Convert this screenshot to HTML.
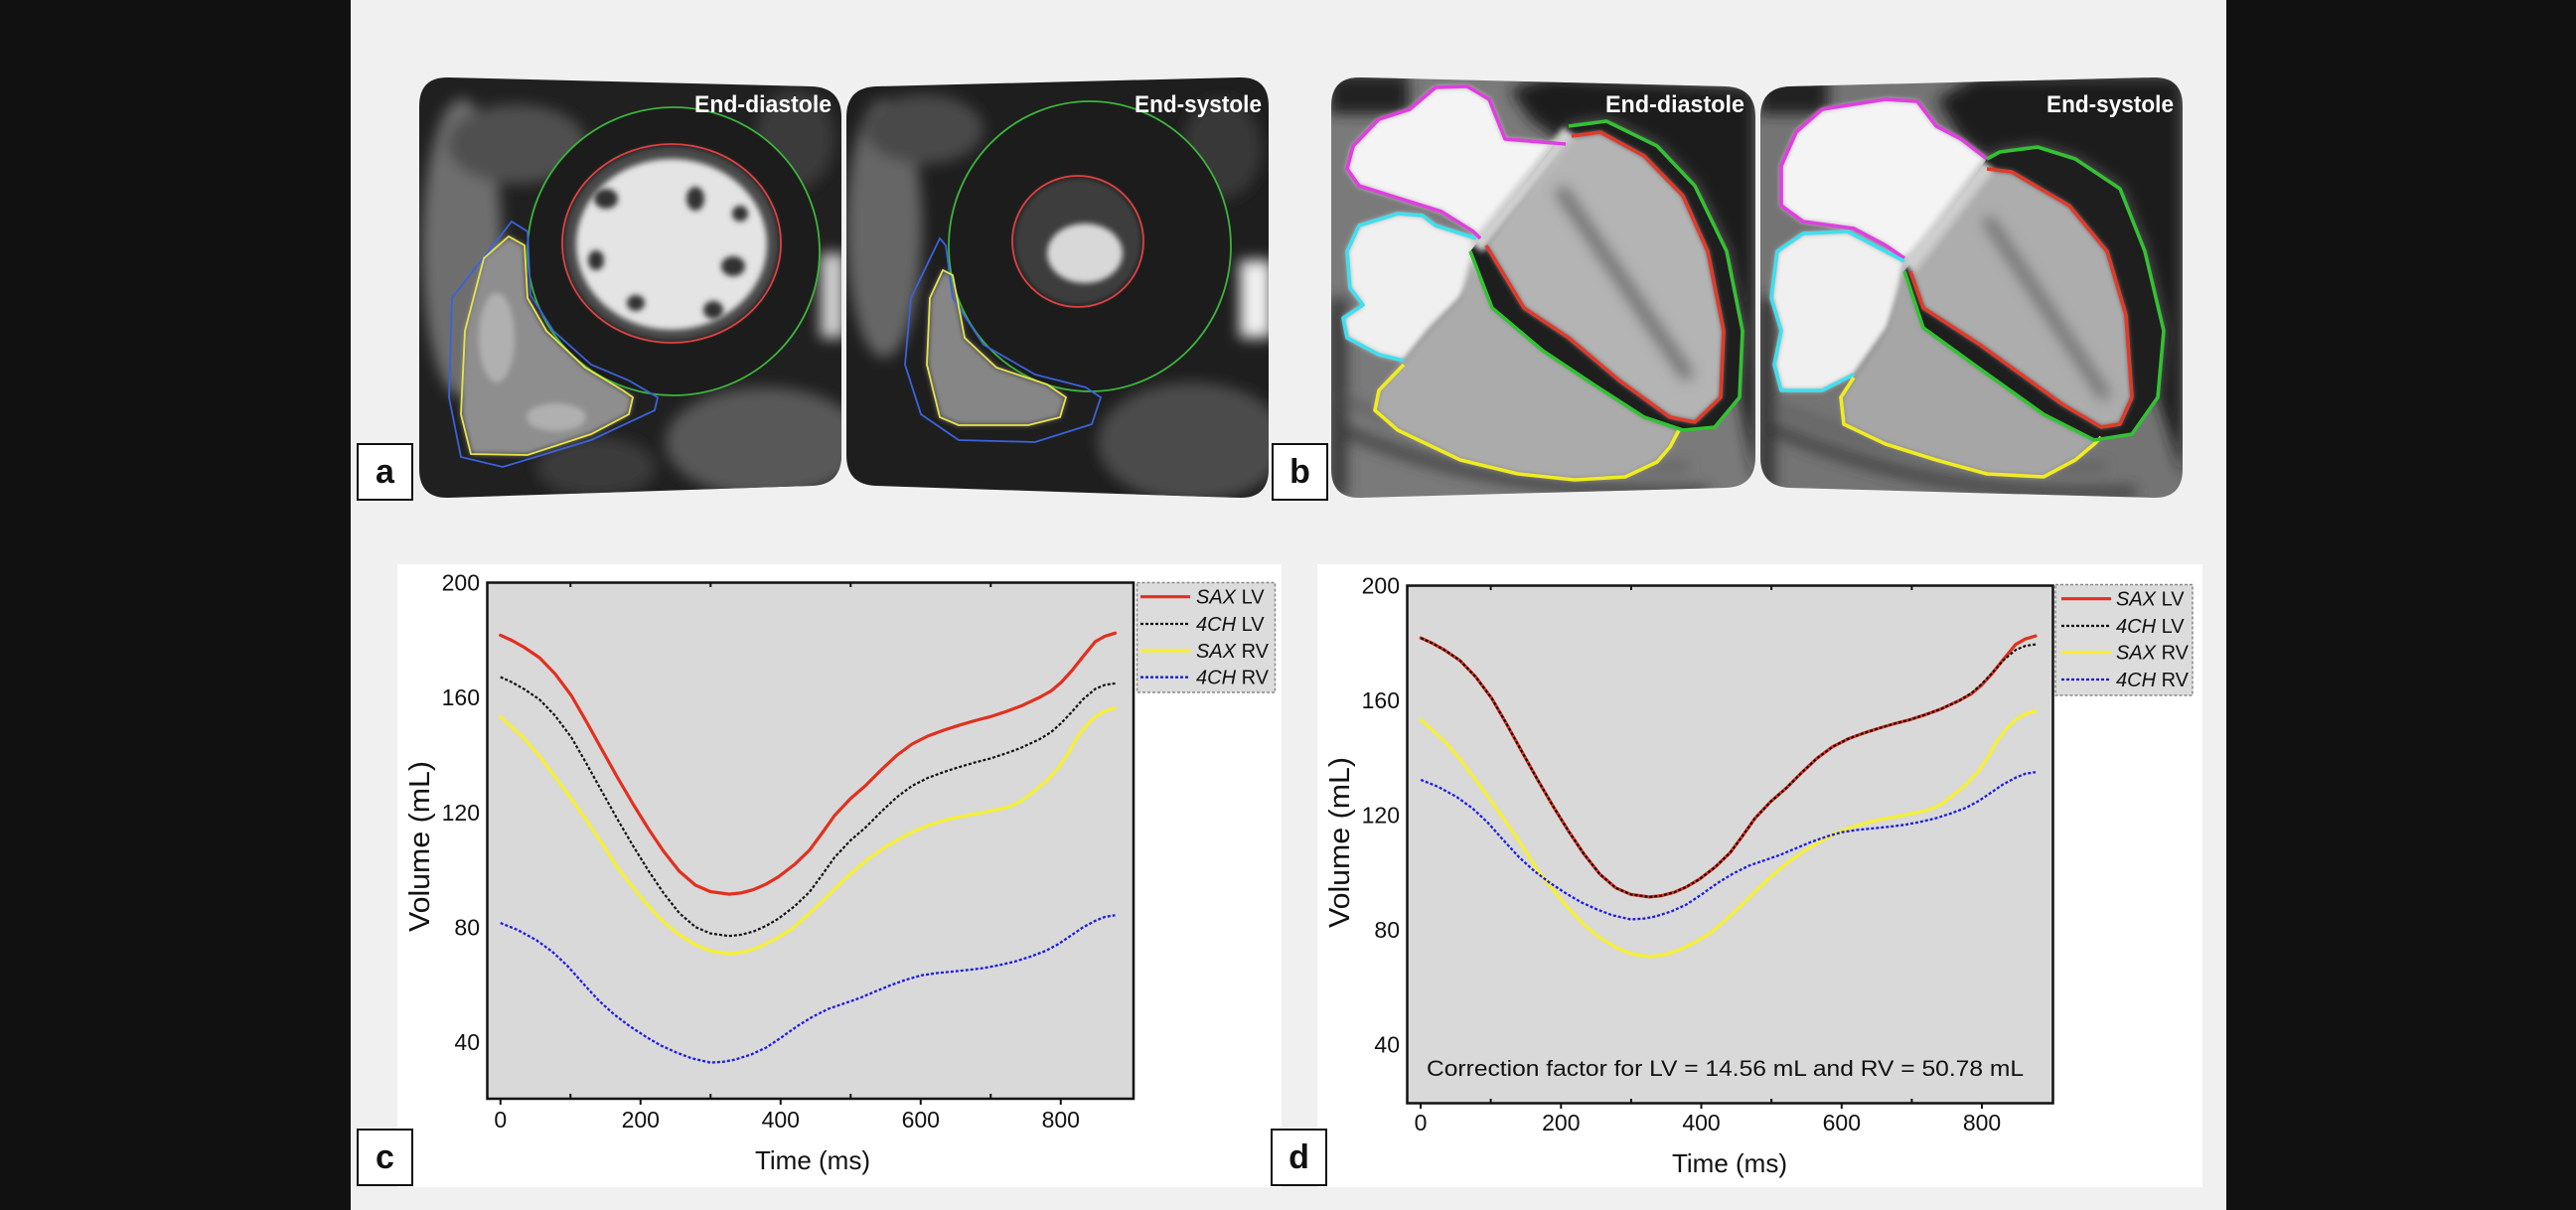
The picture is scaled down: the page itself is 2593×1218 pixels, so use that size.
<!DOCTYPE html>
<html>
<head>
<meta charset="utf-8">
<style>
html,body{margin:0;padding:0;background:#111;}
body{width:2593px;height:1218px;overflow:hidden;}
svg{display:block;}
text{font-family:"Liberation Sans",Arial,sans-serif;}
</style>
</head>
<body>
<svg width="2593" height="1218" viewBox="0 0 2593 1218" xmlns="http://www.w3.org/2000/svg">
<defs>
  <filter id="bl" x="-30%" y="-30%" width="160%" height="160%"><feGaussianBlur stdDeviation="7"/></filter>
  <filter id="bs" x="-30%" y="-30%" width="160%" height="160%"><feGaussianBlur stdDeviation="3"/></filter>
  <clipPath id="ca1"><path d="M452,78 L817,87 Q847,88 847,118 L847,458 Q847,488 817,489 L452,501 Q422,502 422,472 L422,107 Q422,77 452,78 Z"/></clipPath>
  <clipPath id="ca2"><path d="M882,87 L1247,78 Q1277,77 1277,107 L1277,472 Q1277,502 1247,501 L882,489 Q852,488 852,458 L852,118 Q852,88 882,87 Z"/></clipPath>
  <clipPath id="cb1"><path d="M1370,78 L1737,87 Q1767,88 1767,118 L1767,460 Q1767,490 1737,491 L1370,501 Q1340,502 1340,472 L1340,107 Q1340,77 1370,78 Z"/></clipPath>
  <clipPath id="cb2"><path d="M1802,87 L2167,78 Q2197,77 2197,107 L2197,472 Q2197,502 2167,501 L1802,491 Q1772,490 1772,460 L1772,118 Q1772,88 1802,87 Z"/></clipPath>

  <path id="cRed" fill="none" stroke="#e2301f" stroke-width="3.2" stroke-linejoin="round" stroke-linecap="round"
   d="M503.75,639.4 L515,644.5 L527.5,651.5 L543,662 L558.75,678.3 L575,700 L590,725.9 L605,753 L621.25,782.1 L637,809 L652.5,834 L668,857 L683.75,877 L700,891 L715,897.5 L733.75,900.1 L746,898.8 L758.75,895.4 L771,890 L783.75,882.5 L800,870 L815,855.6 L828,838 L840,821 L856,804 L871.25,790.8 L887,775 L902.5,760.5 L918,749 L933.75,741 L950,735 L965,730.2 L981,725.5 L996.25,721.6 L1012,716.5 L1027.5,710.8 L1046.25,702.1 L1058,695.5 L1068.1,687 L1079,675 L1090,661.1 L1102.5,645.9 L1112,640.5 L1122.5,637.3"/>
  <path id="cBlk" fill="none" stroke="#111" stroke-width="2.2" stroke-dasharray="3 2"
   d="M503.75,681.5 L515,686.6 L527.5,693.6 L543,704.1 L558.75,720.4 L575,742.1 L590,768 L605,795.1 L621.25,824.2 L637,851.1 L652.5,876.1 L668,899.1 L683.75,919.1 L700,933.1 L715,939.6 L733.75,942.2 L746,940.9 L758.75,937.5 L771,932.1 L783.75,924.6 L800,912.1 L815,897.7 L828,880.1 L840,863.1 L856,846.1 L871.25,832.9 L887,817.1 L902.5,802.6 L918,791.1 L933.75,783.1 L950,777.1 L965,772.3 L981,767.6 L996.25,763.7 L1012,758.6 L1027.5,752.9 L1046.25,744.2 L1058,737 L1068.1,728 L1079,716.5 L1090,704 L1102.5,693.5 L1112,689.5 L1122.5,687.9"/>
  <path id="cYel" fill="none" stroke="#f6f032" stroke-width="3.2" stroke-linejoin="round" stroke-linecap="round"
   d="M503.75,721.6 L527.5,743.2 L543,761 L558.75,782.1 L575,804 L590,825.3 L606,849 L621.25,872.9 L637,893 L652.5,911.8 L668,928 L683.75,941 L700,951 L715,957.2 L733.75,960.2 L750,958 L765,952.9 L781,945 L796.25,935.6 L812,922 L827.5,907.5 L843,892 L858.75,877.2 L875,864 L890,853.4 L906,844 L921.25,836.1 L937,830 L952.5,825.3 L968,821.8 L983.75,818.9 L1000,815.8 L1015,812.4 L1028,806.5 L1040,797.2 L1053,786.5 L1065,773.5 L1075,759 L1083.75,743.2 L1093,731 L1102.5,721.6 L1112,716 L1122.5,712.9"/>
  <path id="cBlu" fill="none" stroke="#1c1ce6" stroke-width="2.3" stroke-dasharray="3 2"
   d="M503.75,929.1 L521,936 L540,946.4 L556,958 L571.25,972.3 L587,990 L602.5,1006.9 L618,1021 L633.75,1032.9 L650,1043.5 L665,1052.3 L681,1059.5 L696.25,1065.3 L715,1069.6 L728,1068.8 L740,1066.6 L756,1061.5 L771.25,1054.5 L787,1044 L802.5,1032.9 L818,1023.5 L833.75,1015.6 L850,1010 L865,1004.8 L880,998.5 L896.25,991.8 L912,986.2 L927.5,981.8 L943,979.5 L958.75,978 L975,976.3 L990,974.5 L1006,971.5 L1021.25,968 L1037,963 L1052.5,957.2 L1065,950.5 L1077.5,942.1 L1090,933.5 L1102.5,926.9 L1112,923 L1122.5,921.3"/>
</defs>

<!-- backgrounds -->
<rect x="0" y="0" width="2593" height="1218" fill="#111"/>
<rect x="353" y="0" width="1888" height="1218" fill="#f0f0f0"/>

<!-- ============ Panel a image 1 (end-diastole SAX) ============ -->
<g clip-path="url(#ca1)">
  <rect x="420" y="75" width="430" height="430" fill="#202020"/>
  <g filter="url(#bl)">
    <ellipse cx="465" cy="250" rx="40" ry="150" fill="#6e6e6e"/>
    <ellipse cx="520" cy="145" rx="70" ry="40" fill="#505050"/>
    <ellipse cx="770" cy="445" rx="100" ry="55" fill="#585858"/>
    <rect x="826" y="255" width="24" height="85" fill="#d0d0d0"/>
    <ellipse cx="600" cy="470" rx="60" ry="30" fill="#3a3a3a"/>
    <ellipse cx="800" cy="140" rx="40" ry="50" fill="#3a3a3a"/>
  </g>
  <polygon filter="url(#bs)" fill="#8e8e8e" points="512,238 487,260 468,333 464,417 474,457 531,458 595,437 633,417 637,400 627,393 589,370 550,333 531,300 528,247"/>
  <g filter="url(#bs)" fill="#b0b0b0"><ellipse cx="500" cy="340" rx="18" ry="45"/><ellipse cx="560" cy="420" rx="30" ry="14"/></g>
  <ellipse cx="678" cy="253" rx="147" ry="145" fill="#1c1c1c"/>
  <ellipse cx="676" cy="245" rx="108" ry="98" fill="#4a4a4a" filter="url(#bs)"/>
  <ellipse cx="676" cy="246" rx="96" ry="86" fill="#e4e4e4" filter="url(#bs)"/>
  <g fill="#303030" filter="url(#bs)">
    <ellipse cx="610" cy="200" rx="12" ry="10"/><ellipse cx="700" cy="200" rx="9" ry="12"/>
    <ellipse cx="738" cy="268" rx="12" ry="10"/><ellipse cx="718" cy="312" rx="10" ry="9"/>
    <ellipse cx="640" cy="305" rx="9" ry="8"/><ellipse cx="600" cy="262" rx="8" ry="10"/>
    <ellipse cx="745" cy="215" rx="8" ry="8"/>
  </g>
  <ellipse cx="678" cy="253" rx="147" ry="145" fill="none" stroke="#3cb43c" stroke-width="1.8"/>
  <ellipse cx="676" cy="245" rx="110" ry="100" fill="none" stroke="#e04040" stroke-width="1.8"/>
  <polygon fill="none" stroke="#3a62dc" stroke-width="1.8" points="515,223 455,300 452,400 464,460 506,470 595,443 659,413 662,400 633,383 595,367 557,333 534,297 531,233"/>
  <polygon fill="none" stroke="#e8e44a" stroke-width="1.8" points="512,238 487,260 468,333 464,417 474,457 531,458 595,437 633,417 637,400 627,393 589,370 550,333 531,300 528,247"/>
</g>
<text x="699" y="113" font-size="24" font-weight="bold" fill="#fff" textLength="138" lengthAdjust="spacingAndGlyphs">End-diastole</text>

<!-- ============ Panel a image 2 (end-systole SAX) ============ -->
<g clip-path="url(#ca2)">
  <rect x="850" y="75" width="430" height="430" fill="#1e1e1e"/>
  <g filter="url(#bl)">
    <ellipse cx="890" cy="230" rx="38" ry="130" fill="#666"/>
    <ellipse cx="930" cy="130" rx="60" ry="35" fill="#4a4a4a"/>
    <ellipse cx="1200" cy="445" rx="95" ry="60" fill="#4c4c4c"/>
    <rect x="1248" y="262" width="32" height="78" fill="#f0f0f0"/>
    <ellipse cx="1230" cy="150" rx="40" ry="50" fill="#383838"/>
  </g>
  <polygon filter="url(#bs)" fill="#868686" points="949,272 936,300 933,367 946,420 965,428 1035,428 1067,420 1073,400 1054,387 1003,370 971,340 959,277"/>
  <ellipse cx="1097" cy="248" rx="142" ry="146" fill="#1c1c1c"/>
  <ellipse cx="1085" cy="243" rx="64" ry="64" fill="#3c3c3c" filter="url(#bs)"/>
  <ellipse cx="1092" cy="255" rx="38" ry="30" fill="#d8d8d8" filter="url(#bs)"/>
  <ellipse cx="1097" cy="248" rx="142" ry="146" fill="none" stroke="#3cb43c" stroke-width="1.8"/>
  <ellipse cx="1085" cy="243" rx="66" ry="66" fill="none" stroke="#e04040" stroke-width="1.8"/>
  <polygon fill="none" stroke="#3a62dc" stroke-width="1.8" points="946,240 917,300 911,367 927,417 965,443 1042,445 1099,427 1108,400 1093,390 1042,377 990,347 959,300 952,247"/>
  <polygon fill="none" stroke="#e8e44a" stroke-width="1.8" points="949,272 936,300 933,367 946,420 965,428 1035,428 1067,420 1073,400 1054,387 1003,370 971,340 959,277"/>
</g>
<text x="1142" y="113" font-size="24" font-weight="bold" fill="#fff" textLength="128" lengthAdjust="spacingAndGlyphs">End-systole</text>

<!-- ============ Panel b image 1 (end-diastole 4CH) ============ -->
<g clip-path="url(#cb1)">
  <rect x="1338" y="75" width="432" height="430" fill="#7a7a7a"/>
  <g filter="url(#bl)">
    <polygon fill="#1c1c1c" points="1560,77 1767,88 1767,490 1751,400 1754,333 1738,253 1706,187 1668,147 1617,122 1579,127 1576,145 1540,120 1520,90"/>
    <rect x="1338" y="75" width="80" height="40" fill="#222"/>
    <rect x="1338" y="300" width="18" height="200" fill="#3a3a3a"/>
    <path d="M1345,430 Q1500,500 1720,495" stroke="#3a3a3a" stroke-width="10" fill="none"/>
    <path d="M1350,400 Q1480,470 1700,470" stroke="#555" stroke-width="6" fill="none"/>
    <ellipse cx="1530" cy="200" rx="45" ry="40" fill="#d0d0d0"/>
  </g>
  <polygon filter="url(#bs)" fill="#f4f4f4" points="1576,145 1515,140 1499,100 1477,87 1445,88 1419,110 1388,120 1362,147 1356,170 1368,187 1419,203 1451,213 1483,233 1490,240 1520,220 1550,180 1570,160"/>
  <polygon filter="url(#bs)" fill="#f0f0f0" points="1486,240 1445,227 1432,217 1407,215 1368,227 1356,253 1359,290 1372,307 1352,320 1356,340 1388,357 1413,363 1440,330 1470,300 1490,270"/>
  <polygon filter="url(#bs)" fill="#ababab" points="1413,363 1388,393 1384,413 1407,433 1470,463 1528,477 1585,483 1636,480 1668,465 1681,450 1690,433 1655,420 1604,387 1553,353 1502,310 1480,253 1486,240 1470,300 1440,330"/>
  <polygon fill="#1e1e1e" points="1579,127 1617,122 1668,147 1706,187 1738,253 1754,333 1751,400 1726,430 1694,433 1655,420 1604,387 1553,353 1502,310 1480,253"/>
  <polygon filter="url(#bs)" fill="#b4b4b4" points="1582,137 1611,133 1655,157 1694,197 1719,253 1735,333 1732,400 1706,425 1681,420 1630,383 1579,340 1534,310 1496,247"/>
  <line x1="1486" y1="249" x2="1580" y2="133" stroke="#cfcfcf" stroke-width="16" filter="url(#bs)"/>
  <path filter="url(#bl)" d="M1570,190 L1700,380" stroke="#6a6a6a" stroke-width="12" fill="none"/>
  <g fill="none" stroke-width="3.6" stroke-linejoin="round">
    <polyline stroke="#e03ee0" points="1576,145 1515,140 1499,100 1477,87 1445,88 1419,110 1388,120 1362,147 1356,170 1368,187 1419,203 1451,213 1483,233 1490,240"/>
    <polyline stroke="#3ee0f0" points="1486,240 1445,227 1432,217 1407,215 1368,227 1356,253 1359,290 1372,307 1352,320 1356,340 1388,357 1413,363"/>
    <polyline stroke="#f0ec20" points="1413,367 1388,393 1384,413 1407,433 1470,463 1528,477 1585,483 1636,480 1668,465 1681,450 1690,433"/>
    <polyline stroke="#33c233" points="1579,127 1617,122 1668,147 1706,187 1738,253 1754,333 1751,400 1726,430 1694,433 1655,420 1604,387 1553,353 1502,310 1480,253"/>
    <polyline stroke="#e23a2a" points="1582,137 1611,133 1655,157 1694,197 1719,253 1735,333 1732,400 1706,425 1681,420 1630,383 1579,340 1534,310 1496,247"/>
  </g>
</g>
<text x="1616" y="113" font-size="24" font-weight="bold" fill="#fff" textLength="140" lengthAdjust="spacingAndGlyphs">End-diastole</text>

<!-- ============ Panel b image 2 (end-systole 4CH) ============ -->
<g clip-path="url(#cb2)">
  <rect x="1770" y="75" width="430" height="430" fill="#747474"/>
  <g filter="url(#bl)">
    <polygon fill="#1c1c1c" points="1990,77 2197,77 2197,480 2172,400 2178,333 2159,253 2134,190 2089,160 2051,148 2013,153 2000,160 1974,140 1950,100"/>
    <rect x="1770" y="75" width="70" height="40" fill="#222"/>
    <rect x="1770" y="300" width="16" height="200" fill="#333"/>
    <path d="M1780,430 Q1950,505 2150,495" stroke="#3a3a3a" stroke-width="10" fill="none"/>
    <path d="M1790,410 Q1920,470 2120,470" stroke="#555" stroke-width="6" fill="none"/>
    <ellipse cx="1950" cy="240" rx="40" ry="40" fill="#cfcfcf"/>
  </g>
  <polygon filter="url(#bs)" fill="#f4f4f4" points="2000,160 1974,140 1949,127 1930,102 1898,100 1834,110 1808,133 1793,167 1793,207 1815,223 1866,230 1898,247 1917,260 1950,230 1985,185"/>
  <polygon filter="url(#bs)" fill="#f0f0f0" points="1917,263 1879,243 1860,233 1815,235 1789,253 1783,300 1793,333 1786,367 1793,393 1834,393 1866,377 1900,330 1915,290"/>
  <polygon filter="url(#bs)" fill="#a6a6a6" points="1866,380 1853,400 1856,427 1898,447 1949,463 2000,477 2057,480 2089,463 2108,447 2115,440 2108,443 2057,417 1987,367 1936,330 1917,273 1917,263 1900,330"/>
  <polygon fill="#1e1e1e" points="2000,160 2013,153 2051,148 2089,160 2134,190 2159,253 2178,333 2172,400 2146,437 2108,443 2057,417 1987,367 1936,330 1917,273"/>
  <polygon filter="url(#bs)" fill="#adadad" points="2000,170 2025,173 2083,207 2121,253 2140,317 2146,400 2134,427 2115,430 2076,407 1993,347 1936,310 1923,273"/>
  <line x1="1921" y1="270" x2="2001" y2="166" stroke="#cfcfcf" stroke-width="16" filter="url(#bs)"/>
  <path filter="url(#bl)" d="M2000,220 L2120,400" stroke="#666" stroke-width="10" fill="none"/>
  <g fill="none" stroke-width="3.6" stroke-linejoin="round">
    <polyline stroke="#e03ee0" points="2000,160 1974,140 1949,127 1930,102 1898,100 1834,110 1808,133 1793,167 1793,207 1815,223 1866,230 1898,247 1917,260"/>
    <polyline stroke="#3ee0f0" points="1917,263 1879,243 1860,233 1815,235 1789,253 1783,300 1793,333 1786,367 1793,393 1834,393 1866,377"/>
    <polyline stroke="#f0ec20" points="1866,380 1853,400 1856,427 1898,447 1949,463 2000,477 2057,480 2089,463 2108,447 2115,440"/>
    <polyline stroke="#33c233" points="2000,160 2013,153 2051,148 2089,160 2134,190 2159,253 2178,333 2172,400 2146,437 2108,443 2057,417 1987,367 1936,330 1917,273"/>
    <polyline stroke="#e23a2a" points="2000,170 2025,173 2083,207 2121,253 2140,317 2146,400 2134,427 2115,430 2076,407 1993,347 1936,310 1923,273"/>
  </g>
</g>
<text x="2060" y="113" font-size="24" font-weight="bold" fill="#fff" textLength="128" lengthAdjust="spacingAndGlyphs">End-systole</text>

<!-- panel letter boxes a,b -->
<rect x="360" y="447" width="55" height="56" fill="#fff" stroke="#111" stroke-width="2"/>
<text x="387.5" y="486" font-size="34" font-weight="bold" text-anchor="middle" fill="#111">a</text>
<rect x="1281" y="447" width="55" height="56" fill="#fff" stroke="#111" stroke-width="2"/>
<text x="1308.5" y="486" font-size="34" font-weight="bold" text-anchor="middle" fill="#111">b</text>

<!-- ============ Chart c ============ -->
<rect x="400" y="568" width="890" height="627" fill="#fff"/>
<rect x="490.5" y="586.5" width="650.5" height="519.5" fill="#d9d9d9" stroke="#111" stroke-width="2.5"/>
<g stroke="#111" stroke-width="2">
  <line x1="503.75" y1="1106" x2="503.75" y2="1112"/><line x1="644.75" y1="1106" x2="644.75" y2="1112"/>
  <line x1="785.75" y1="1106" x2="785.75" y2="1112"/><line x1="926.75" y1="1106" x2="926.75" y2="1112"/>
  <line x1="1067.75" y1="1106" x2="1067.75" y2="1112"/>
  <line x1="574.25" y1="1106" x2="574.25" y2="1101"/><line x1="715.25" y1="1106" x2="715.25" y2="1101"/>
  <line x1="856.25" y1="1106" x2="856.25" y2="1101"/><line x1="997.25" y1="1106" x2="997.25" y2="1101"/>
  <line x1="574.25" y1="586.5" x2="574.25" y2="591"/><line x1="715.25" y1="586.5" x2="715.25" y2="591"/>
  <line x1="856.25" y1="586.5" x2="856.25" y2="591"/><line x1="997.25" y1="586.5" x2="997.25" y2="591"/>
</g>
<g font-size="23" fill="#111" text-anchor="end">
  <text x="483" y="594.5">200</text>
  <text x="483" y="710">160</text>
  <text x="483" y="826">120</text>
  <text x="483" y="941.5">80</text>
  <text x="483" y="1057">40</text>
</g>
<g font-size="23" fill="#111" text-anchor="middle">
  <text x="503.75" y="1135">0</text>
  <text x="644.75" y="1135">200</text>
  <text x="785.75" y="1135">400</text>
  <text x="926.75" y="1135">600</text>
  <text x="1067.75" y="1135">800</text>
</g>
<text x="818" y="1177" font-size="26" fill="#111" text-anchor="middle">Time (ms)</text>
<text transform="translate(432,852) rotate(-90)" font-size="29" fill="#111" text-anchor="middle" textLength="172" lengthAdjust="spacingAndGlyphs">Volume (mL)</text>
<use href="#cBlu"/>
<use href="#cYel"/>
<use href="#cBlk"/>
<use href="#cRed"/>
<!-- legend c -->
<rect x="1144.5" y="586.5" width="139" height="110.5" fill="#dcdcdc" stroke="#888" stroke-width="1.5" stroke-dasharray="3 2"/>
<line x1="1148" y1="600.7" x2="1198" y2="600.7" stroke="#e2301f" stroke-width="3.2"/>
<line x1="1148" y1="628" x2="1198" y2="628" stroke="#111" stroke-width="2.2" stroke-dasharray="3 2"/>
<line x1="1148" y1="655" x2="1198" y2="655" stroke="#f6f032" stroke-width="3.2"/>
<line x1="1148" y1="681.7" x2="1198" y2="681.7" stroke="#1c1ce6" stroke-width="2.3" stroke-dasharray="3 2"/>
<g font-size="20" fill="#111">
  <text x="1204" y="607.7"><tspan font-style="italic">SAX</tspan> LV</text>
  <text x="1204" y="635"><tspan font-style="italic">4CH</tspan> LV</text>
  <text x="1204" y="662"><tspan font-style="italic">SAX</tspan> RV</text>
  <text x="1204" y="688.7"><tspan font-style="italic">4CH</tspan> RV</text>
</g>
<rect x="360" y="1137" width="55" height="56" fill="#fff" stroke="#111" stroke-width="2"/>
<text x="387.5" y="1176" font-size="34" font-weight="bold" text-anchor="middle" fill="#111">c</text>

<!-- ============ Chart d ============ -->
<rect x="1326" y="568" width="891" height="627" fill="#fff"/>
<rect x="1416.5" y="589.5" width="650" height="521" fill="#d9d9d9" stroke="#111" stroke-width="2.5"/>
<g stroke="#111" stroke-width="2">
  <line x1="1430" y1="1110.5" x2="1430" y2="1116"/><line x1="1571.3" y1="1110.5" x2="1571.3" y2="1116"/>
  <line x1="1712.5" y1="1110.5" x2="1712.5" y2="1116"/><line x1="1853.8" y1="1110.5" x2="1853.8" y2="1116"/>
  <line x1="1995" y1="1110.5" x2="1995" y2="1116"/>
  <line x1="1500.6" y1="1110.5" x2="1500.6" y2="1106"/><line x1="1641.9" y1="1110.5" x2="1641.9" y2="1106"/>
  <line x1="1783.1" y1="1110.5" x2="1783.1" y2="1106"/><line x1="1924.4" y1="1110.5" x2="1924.4" y2="1106"/>
  <line x1="1500.6" y1="589.5" x2="1500.6" y2="594"/><line x1="1641.9" y1="589.5" x2="1641.9" y2="594"/>
  <line x1="1783.1" y1="589.5" x2="1783.1" y2="594"/><line x1="1924.4" y1="589.5" x2="1924.4" y2="594"/>
</g>
<g font-size="23" fill="#111" text-anchor="end">
  <text x="1409" y="597.5">200</text>
  <text x="1409" y="713">160</text>
  <text x="1409" y="828.5">120</text>
  <text x="1409" y="944">80</text>
  <text x="1409" y="1059.5">40</text>
</g>
<g font-size="23" fill="#111" text-anchor="middle">
  <text x="1430" y="1138">0</text>
  <text x="1571.3" y="1138">200</text>
  <text x="1712.5" y="1138">400</text>
  <text x="1853.8" y="1138">600</text>
  <text x="1995" y="1138">800</text>
</g>
<text x="1741" y="1180" font-size="26" fill="#111" text-anchor="middle">Time (ms)</text>
<text transform="translate(1358,848) rotate(-90)" font-size="29" fill="#111" text-anchor="middle" textLength="172" lengthAdjust="spacingAndGlyphs">Volume (mL)</text>
<use href="#cYel" transform="translate(926.5,2.8)"/>
<use href="#cBlu" transform="translate(926.5,-144.1)"/>
<use href="#cRed" transform="translate(926.5,2.8)"/>
<use href="#cBlk" transform="translate(926.5,-39.3)"/>
<text x="1436" y="1083" font-size="22" fill="#111" textLength="601" lengthAdjust="spacingAndGlyphs">Correction factor for LV = 14.56 mL and RV = 50.78 mL</text>
<!-- legend d -->
<rect x="2069" y="588.5" width="138" height="111.5" fill="#dcdcdc" stroke="#888" stroke-width="1.5" stroke-dasharray="3 2"/>
<line x1="2075" y1="602.7" x2="2125" y2="602.7" stroke="#e2301f" stroke-width="3.2"/>
<line x1="2075" y1="630" x2="2125" y2="630" stroke="#111" stroke-width="2.2" stroke-dasharray="3 2"/>
<line x1="2075" y1="656.7" x2="2125" y2="656.7" stroke="#f6f032" stroke-width="3.2"/>
<line x1="2075" y1="684" x2="2125" y2="684" stroke="#1c1ce6" stroke-width="2.3" stroke-dasharray="3 2"/>
<g font-size="20" fill="#111">
  <text x="2130" y="609.7"><tspan font-style="italic">SAX</tspan> LV</text>
  <text x="2130" y="637"><tspan font-style="italic">4CH</tspan> LV</text>
  <text x="2130" y="663.7"><tspan font-style="italic">SAX</tspan> RV</text>
  <text x="2130" y="691"><tspan font-style="italic">4CH</tspan> RV</text>
</g>
<rect x="1280" y="1137" width="55" height="56" fill="#fff" stroke="#111" stroke-width="2"/>
<text x="1307.5" y="1176" font-size="34" font-weight="bold" text-anchor="middle" fill="#111">d</text>
</svg>
</body>
</html>
